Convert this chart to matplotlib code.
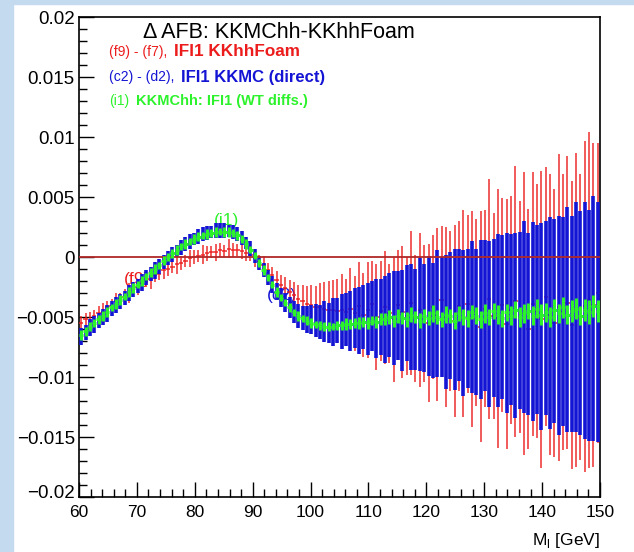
import matplotlib
matplotlib.use('Agg')
import matplotlib.pyplot as plt
import matplotlib.transforms as mtransforms
import numpy as np
from matplotlib.patches import Rectangle
from matplotlib.ticker import MultipleLocator

plt.rcParams['font.family'] = ['Liberation Sans', 'DejaVu Sans']
plt.rcParams['mathtext.fontset'] = 'custom'
plt.rcParams['mathtext.rm'] = 'Liberation Sans'

# binning of the histograms (GeV)
m_lo, m_hi, n_bins = 60.0, 150.0, 120

# all values below in units of 1e-4
# (i1) KKMChh: IFI1 (WT diffs.)
green_val = [-65, -62, -58, -55, -52, -49, -46, -42, -39, -36,
             -33, -29, -26, -23, -20, -16, -13, -10, -7, -3,
             0, 3, 6, 9, 11, 13, 15, 17, 18, 19,
             20, 21, 21, 21, 21, 20, 18, 15, 11, 6,
             1, -5, -11, -17, -23, -29, -34, -38, -42, -46,
             -49, -51, -53, -55, -56, -57, -58, -58, -58, -57,
             -57, -56, -56, -55, -55, -54, -55, -53, -54, -52,
             -52, -50, -53, -49, -51, -52, -48, -50, -53, -49,
             -51, -47, -50, -52, -48, -49, -53, -47, -50, -51,
             -46, -49, -52, -47, -50, -45, -48, -51, -46, -49,
             -44, -50, -47, -45, -49, -43, -48, -46, -50, -44,
             -47, -42, -48, -45, -43, -49, -44, -46, -41, -45]
green_err = [4, 4, 4, 3, 4, 4, 4, 3, 4, 4,
             3, 4, 4, 3, 4, 3, 4, 4, 3, 4,
             3, 4, 4, 3, 4, 3, 4, 4, 3, 4,
             3, 4, 3, 4, 4, 3, 4, 3, 4, 3,
             3, 3, 4, 3, 3, 4, 3, 3, 4, 3,
             4, 3, 4, 4, 3, 4, 4, 4, 3, 4,
             4, 5, 4, 4, 5, 4, 5, 4, 5, 5,
             5, 6, 5, 6, 5, 6, 6, 5, 6, 6,
             6, 7, 6, 6, 7, 6, 7, 6, 7, 7,
             6, 7, 7, 8, 7, 7, 8, 7, 7, 8,
             7, 8, 8, 7, 8, 8, 9, 8, 8, 9,
             8, 9, 8, 9, 9, 8, 9, 10, 9, 9]

# (c2) - (d2), IFI1 KKMC (direct)
blue_val = [-66, -63, -59, -56, -53, -50, -47, -43, -40, -37,
            -34, -30, -27, -24, -21, -17, -14, -11, -8, -4,
            -1, 2, 5, 8, 11, 13, 15, 17, 19, 20,
            21, 22, 22, 22, 22, 21, 19, 16, 12, 7,
            1, -5, -11, -17, -23, -29, -34, -38, -42, -46,
            -49, -51, -52, -52, -53, -54, -54, -55, -54, -53,
            -54, -52, -53, -51, -53, -50, -52, -49, -51, -50,
            -52, -48, -51, -49, -53, -47, -50, -52, -48, -51,
            -49, -53, -47, -50, -54, -49, -52, -48, -55, -51,
            -50, -54, -52, -49, -56, -51, -53, -50, -55, -52,
            -57, -53, -50, -56, -54, -52, -58, -51, -55, -53,
            -57, -54, -52, -56, -50, -55, -53, -57, -51, -54]
blue_err = [7, 6, 7, 7, 6, 7, 7, 6, 7, 6,
            6, 7, 6, 6, 7, 6, 6, 7, 6, 6,
            6, 6, 5, 6, 6, 6, 5, 6, 6, 6,
            5, 6, 6, 6, 5, 6, 6, 6, 5, 6,
            6, 6, 6, 6, 7, 7, 8, 8, 9, 9,
            10, 10, 11, 12, 14, 14, 17, 17, 20, 19,
            23, 22, 25, 25, 28, 27, 30, 29, 33, 32,
            36, 35, 39, 37, 42, 40, 44, 42, 47, 45,
            50, 48, 53, 50, 56, 53, 59, 55, 61, 58,
            63, 61, 66, 63, 69, 66, 72, 68, 75, 71,
            77, 74, 80, 76, 83, 79, 86, 81, 88, 85,
            91, 87, 94, 90, 96, 93, 99, 96, 102, 100]

# (f9) - (f7), IFI1 KKhhFoam
red_val = [-55, -52, -53, -49, -47, -46, -42, -41, -37, -35,
           -33, -30, -27, -25, -22, -20, -18, -15, -14, -11,
           -10, -8, -6, -5, -3, -1, 0, 1, 2, 3,
           4, 4, 6, 5, 7, 6, 6, 5, 3, 2,
           -1, -4, -7, -11, -15, -19, -23, -26, -29, -32,
           -35, -37, -39, -40, -42, -42, -43, -44, -44, -45,
           -44, -46, -43, -47, -41, -48, -44, -39, -50, -45,
           -42, -47, -52, -40, -46, -49, -38, -51, -44, -47,
           -55, -42, -48, -36, -50, -45, -53, -41, -47, -39,
           -52, -46, -58, -43, -35, -49, -51, -40, -56, -44,
           -37, -50, -47, -60, -39, -45, -52, -33, -48, -55,
           -42, -46, -38, -57, -44, -50, -41, -36, -40, -30]
red_err = [6, 5, 7, 5, 6, 8, 5, 6, 7, 5,
           6, 8, 5, 7, 6, 5, 9, 6, 5, 7,
           6, 5, 8, 6, 5, 7, 6, 5, 8, 6,
           5, 7, 6, 5, 8, 6, 5, 7, 6, 5,
           7, 6, 8, 6, 7, 7, 8, 9, 10, 11,
           12, 14, 15, 17, 18, 20, 22, 24, 25, 27,
           30, 28, 34, 31, 37, 35, 40, 36, 44, 42,
           47, 41, 52, 46, 55, 49, 60, 53, 64, 57,
           66, 60, 72, 62, 75, 67, 80, 71, 86, 74,
           90, 78, 96, 82, 100, 86, 108, 89, 104, 95,
           113, 97, 118, 100, 110, 106, 124, 108, 117, 112,
           128, 115, 122, 120, 131, 119, 138, 140, 135, 125]

title = "\u0394 AFB: KKMChh-KKhhFoam"
legend_heads = ["(f9) - (f7),", "(c2) - (d2),", "(i1)"]
legend_tails = ["IFI1 KKhhFoam", "IFI1 KKMC (direct)", "KKMChh: IFI1 (WT diffs.)"]
ytick_vals = [-0.02, -0.015, -0.01, -0.005, 0, 0.005, 0.01, 0.015, 0.02]
ytick_labels = ["\u22120.02", "\u22120.015", "\u22120.01", "\u22120.005", "0",
                "0.005", "0.01", "0.015", "0.02"]
xtick_vals = [60, 70, 80, 90, 100, 110, 120, 130, 140, 150]

RED = '#ec1c1c'
BLUE = '#1414d4'
GREEN = '#2cf22c'
row_colors = [RED, BLUE, GREEN]

unit = 1e-4
edges = np.linspace(m_lo, m_hi, n_bins + 1)
centers = 0.5 * (edges[:-1] + edges[1:])
half = 0.5 * (edges[1] - edges[0])

W, H = 634, 552


def fpos(x, y):
    # pixel position -> figure fraction
    return x / W, 1 - y / H


fig = plt.figure(figsize=(W / 100, H / 100), dpi=100)
fig.patches.append(Rectangle((0, 0), 12.7 / W, 1, transform=fig.transFigure,
                             color='#c4daef', zorder=-10))
fig.patches.append(Rectangle((0, 1 - 4 / H), 1, 4 / H, transform=fig.transFigure,
                             color='#c4daef', zorder=-10))

ax = fig.add_axes([79 / W, 55 / H, 521 / W, 480 / H])

ax.errorbar(centers, np.array(red_val) * unit, yerr=np.array(red_err) * unit,
            xerr=half, fmt='none', ecolor=RED, elinewidth=1.2, capsize=0,
            alpha=0.85, zorder=3)
ax.errorbar(centers, np.array(blue_val) * unit, yerr=np.array(blue_err) * unit,
            fmt='none', ecolor=BLUE, elinewidth=2.6, capsize=0, zorder=4)
ax.axhline(0, color='#b02828', lw=1.3, zorder=5)
ax.errorbar(centers, np.array(green_val) * unit, yerr=np.array(green_err) * unit,
            xerr=half, fmt='none', ecolor=GREEN, elinewidth=2.2, capsize=0, zorder=6)

# labels drawn under the curves
ax.text(70, -0.0019, "(f9)", color=RED, fontsize=12.5, ha='center', va='center', zorder=1)
ax.text(85.5, 0.0030, "(i1)", color=GREEN, fontsize=12.5, ha='center', va='center', zorder=1)
ax.text(95, -0.0032, "(c2)", color=BLUE, fontsize=12.5, ha='center', va='center', zorder=1)

ax.set_xlim(m_lo, m_hi)
ax.set_ylim(-0.02, 0.02)
ax.set_xticks(xtick_vals)
ax.set_yticks(ytick_vals, labels=ytick_labels)
ax.xaxis.set_minor_locator(MultipleLocator(2))
ax.yaxis.set_minor_locator(MultipleLocator(0.001))
ax.tick_params(which='both', direction='in', top=False, right=False,
               width=1, color='black')
ax.tick_params(axis='y', labelsize=13.5, pad=3)
ax.tick_params(axis='x', labelsize=12.5, pad=6)
ax.tick_params(which='major', length=11)
ax.tick_params(which='minor', length=6)
for s in ax.spines.values():
    s.set_linewidth(1.2)

# lift the lowest y label a little, as in the original canvas
low = ax.get_yticklabels()[0]
low.set_transform(low.get_transform() +
                  mtransforms.ScaledTranslation(0, 5 / 100, fig.dpi_scale_trans))

fig.text(*fpos(600, 540), r"M$_{\rm l}$ [GeV]", ha='right', va='center', fontsize=12.5)

fig.text(*fpos(143, 32), title, fontsize=15.5, ha='left', va='center')

head_sizes = [10, 10, 10]
tail_sizes = [12.3, 12.0, 10.5]
renderer = fig.canvas.get_renderer()
for i, y in enumerate([52, 77, 101]):
    t = fig.text(*fpos(109, y), legend_heads[i], color=row_colors[i],
                 fontsize=head_sizes[i], ha='left', va='center')
    x1 = t.get_window_extent(renderer=renderer).x1
    fig.text(*fpos(x1 + 7, y), legend_tails[i], color=row_colors[i],
             fontsize=tail_sizes[i], ha='left', va='center', fontweight='bold')

fig.savefig('out.png', dpi=100)
